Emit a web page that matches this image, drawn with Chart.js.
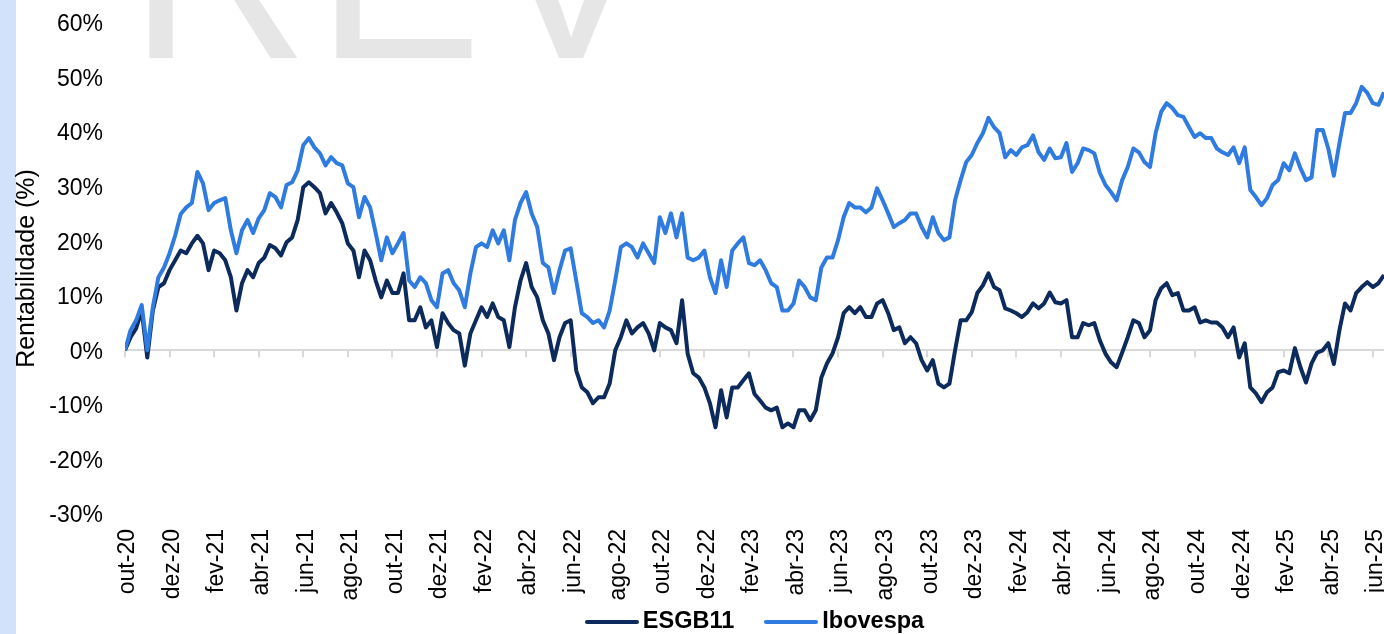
<!DOCTYPE html>
<html>
<head>
<meta charset="utf-8">
<script src="https://cdn.jsdelivr.net/npm/chart.js@4.4.1/dist/chart.umd.min.js"></script>
<style>
  html, body { margin: 0; padding: 0; background: #fff; }
  #wrap { position: relative; width: 1384px; height: 634px; overflow: hidden; }
  #faixa { position: absolute; left: 0; top: 0; width: 16px; height: 634px; background: #d0e3fb; }
  #grafico { position: absolute; left: 0; top: 0; }
  #legenda { position: absolute; left: 125px; width: 1259px; top: 607px; height: 27px;
             display: flex; justify-content: center; align-items: center;
             font: bold 23.5px "Liberation Sans", Arial, sans-serif; color: #000; }
  .linha { display: inline-block; width: 54px; height: 4px; border-radius: 2px; margin-right: 4px; margin-top: 3px; }
  .item { display: flex; align-items: center; }
  .item + .item { margin-left: 30px; }
</style>
</head>
<body>
<div id="wrap">
  <div id="faixa"></div>
  <canvas id="grafico" width="1384" height="634"></canvas>
  <div id="legenda">
    <span class="item"><span class="linha" style="background:#0c2a5b"></span>ESGB11</span>
    <span class="item"><span class="linha" style="background:#2f7be0"></span>Ibovespa</span>
  </div>
</div>
<script>
// rentabilidade acumulada (%), um ponto por ~semana desde out-20
const esgb11 = [
  0, 2.4, 4.0, 7.3, -1.3, 7.3, 11.6, 12.3, 14.7, 16.5,
  18.3, 17.8, 19.6, 21.0, 19.6, 14.7, 18.3, 17.8, 16.5, 13.4,
  7.3, 12.3, 14.7, 13.4, 16.0, 17.0, 19.3, 18.7, 17.4, 19.8,
  20.7, 23.9, 29.9, 30.8, 29.9, 28.8, 25.1, 27.0, 25.3, 23.3,
  19.6, 18.3, 13.4, 18.3, 16.5, 12.8, 9.7, 12.8, 10.5, 10.5,
  14.1, 5.5, 5.5, 7.9, 4.2, 5.5, 0.6, 6.8, 5.0, 3.7,
  3.1, -2.8, 3.1, 5.5, 7.9, 6.1, 8.6, 6.1, 5.5, 0.6,
  7.9, 12.8, 16.0, 11.6, 9.7, 5.5, 3.1, -1.8, 2.4, 5.0,
  5.5, -3.7, -6.8, -7.7, -9.7, -8.6, -8.6, -6.1, 0, 2.4,
  5.5, 3.1, 4.2, 5.0, 3.1, 0, 5.0, 4.2, 3.7, 1.3,
  9.2, -0.6, -4.2, -5.0, -6.8, -9.7, -14.1, -7.3, -12.3, -6.8,
  -6.8, -5.5, -4.2, -8.0, -9.2, -10.5, -11.0, -10.5, -14.1, -13.4,
  -14.1, -11.0, -11.0, -12.8, -11.0, -5.0, -2.4, -0.6, 2.4, 6.8,
  7.9, 6.8, 7.9, 6.1, 6.1, 8.6, 9.2, 6.8, 3.7, 4.2,
  1.3, 2.4, 1.3, -1.8, -3.7, -1.8, -6.1, -6.8, -6.1, 0,
  5.5, 5.5, 7.0, 10.5, 11.9, 14.1, 11.6, 11.0, 7.7, 7.3,
  6.8, 6.1, 7.0, 8.6, 7.7, 8.6, 10.6, 8.8, 8.6, 9.2,
  2.4, 2.4, 5.0, 4.6, 5.0, 1.8, -0.6, -2.2, -3.1, -0.4,
  2.4, 5.5, 5.0, 2.4, 3.7, 9.2, 11.4, 12.3, 10.1, 10.5,
  7.3, 7.3, 7.9, 5.1, 5.5, 5.1, 5.1, 4.2, 2.4, 4.2,
  -1.3, 1.3, -6.8, -7.9, -9.5, -7.7, -6.8, -4.0, -3.7, -4.2,
  0.4, -3.1, -5.9, -2.4, -0.4, 0, 1.3, -2.5, 3.7, 8.6,
  7.3, 10.5, 11.6, 12.5, 11.6, 12.3, 13.8
];
const ibovespa = [
  0, 3.7, 5.5, 8.3, 0, 7.9, 13.4, 15.2, 17.8, 21.0,
  25.0, 26.2, 27.0, 32.7, 30.6, 25.7, 27.0, 27.5, 27.9, 22.0,
  17.8, 22.0, 23.9, 21.5, 24.2, 25.7, 28.8, 28.1, 26.2, 30.3,
  30.8, 33.0, 37.6, 38.9, 37.2, 36.1, 33.9, 35.4, 34.3, 33.9,
  30.6, 29.9, 24.4, 28.1, 26.2, 21.5, 16.5, 20.7, 17.8, 19.6,
  21.5, 12.8, 11.6, 13.4, 12.3, 9.2, 7.9, 14.1, 14.7, 12.3,
  11.0, 7.9, 14.1, 18.9, 19.6, 18.9, 22.0, 19.6, 22.0, 16.5,
  23.9, 27.0, 29.0, 25.1, 22.6, 16.0, 15.2, 10.5, 14.7, 18.3,
  18.7, 12.8, 6.8, 6.1, 5.0, 5.5, 4.2, 7.3, 12.8, 18.9,
  19.6, 18.9, 17.0, 19.6, 17.8, 16.0, 24.4, 21.5, 25.1, 20.7,
  25.1, 17.0, 16.5, 17.0, 18.3, 13.4, 10.5, 16.5, 11.6, 18.3,
  19.6, 20.7, 16.0, 15.6, 16.5, 14.7, 12.3, 11.6, 7.3, 7.3,
  8.6, 12.8, 11.6, 9.7, 9.2, 15.2, 17.0, 17.0, 20.2, 24.4,
  27.0, 26.2, 26.2, 25.3, 26.2, 29.7, 27.5, 25.1, 22.6, 23.3,
  23.9, 25.1, 25.1, 22.6, 20.7, 24.4, 21.5, 20.2, 20.7, 27.5,
  31.2, 34.5, 35.8, 38.0, 39.8, 42.6, 40.9, 39.8, 35.4, 36.7,
  35.8, 37.2, 37.6, 39.4, 36.3, 34.9, 37.0, 35.2, 35.4, 38.0,
  32.7, 34.3, 37.0, 36.7, 36.1, 32.5, 30.3, 29.0, 27.5, 31.2,
  33.6, 37.0, 36.3, 34.5, 33.6, 39.8, 43.7, 45.3, 44.4, 43.1,
  42.8, 40.9, 39.1, 39.8, 38.9, 38.9, 37.0, 36.3, 35.8, 37.2,
  34.3, 37.2, 29.4, 28.1, 26.6, 27.9, 30.3, 31.2, 34.3, 33.0,
  36.1, 33.4, 31.2, 31.7, 40.4, 40.4, 37.0, 32.0, 38.0, 43.5,
  43.5, 45.3, 48.3, 47.2, 45.3, 45.0, 47.3
];
const tickLabels = ['out-20', 'dez-20', 'fev-21', 'abr-21', 'jun-21', 'ago-21', 'out-21', 'dez-21',
  'fev-22', 'abr-22', 'jun-22', 'ago-22', 'out-22', 'dez-22', 'fev-23', 'abr-23', 'jun-23', 'ago-23',
  'out-23', 'dez-23', 'fev-24', 'abr-24', 'jun-24', 'ago-24', 'out-24', 'dez-24', 'fev-25', 'abr-25', 'jun-25'];
const mesesPorPonto = 0.25;
const mesesPorRotulo = 2;

function pontos(serie) {
  return serie.map((v, i) => ({ x: i * mesesPorPonto, y: v }));
}

// marca d'agua "REV" cortada no topo
const marcaDagua = {
  id: 'marcaDagua',
  beforeDraw(chart) {
    const ctx = chart.ctx;
    ctx.save();
    ctx.fillStyle = '#e6e6e6';
    ctx.font = '249px "Liberation Sans"';
    ctx.textBaseline = 'alphabetic';
    ctx.fillText('R', 129, 58);
    ctx.fillText('E', 316, 58);
    ctx.fillText('V', 488, 58);
    ctx.restore();
  }
};

// tracinhos do eixo x sobre a linha do zero
const marcasZero = {
  id: 'marcasZero',
  beforeDatasetsDraw(chart) {
    const { ctx, scales: { x, y } } = chart;
    const y0 = y.getPixelForValue(0);
    ctx.save();
    ctx.strokeStyle = '#d9d9d9';
    ctx.lineWidth = 2;
    x.ticks.forEach(t => {
      const px = Math.round(x.getPixelForValue(t.value));
      ctx.beginPath();
      ctx.moveTo(px, y0);
      ctx.lineTo(px, y0 + 7);
      ctx.stroke();
    });
    ctx.restore();
  }
};

window.addEventListener("load", iniciar, false);

function iniciar() {
  Chart.defaults.color = '#000';
  Chart.defaults.font.family = '"Liberation Sans", Arial, sans-serif';

  new Chart(document.getElementById('grafico'), {
    type: 'line',
    data: {
      datasets: [{
        label: 'ESGB11',
        data: pontos(esgb11),
        borderColor: '#0c2a5b',
        backgroundColor: '#0c2a5b',
        borderWidth: 4,
        pointRadius: 0,
        tension: 0,
        borderJoinStyle: 'round',
        order: 2
      }, {
        label: 'Ibovespa',
        data: pontos(ibovespa),
        borderColor: '#2f7be0',
        backgroundColor: '#2f7be0',
        borderWidth: 4,
        pointRadius: 0,
        tension: 0,
        borderJoinStyle: 'round',
        order: 1
      }]
    },
    options: {
      responsive: false,
      animation: false,
      layout: { padding: { top: 23, left: 0, right: 0, bottom: 0 } },
      plugins: {
        legend: { display: false },
        tooltip: { enabled: false }
      },
      scales: {
        x: {
          type: 'linear',
          min: 0,
          max: (esgb11.length - 1) * mesesPorPonto,
          grid: { display: false, drawTicks: false },
          border: { display: false },
          afterBuildTicks: scale => {
            scale.ticks = tickLabels.map((t, i) => ({ value: i * mesesPorRotulo }));
          },
          afterFit: scale => {
            scale.height = 120;
            scale.paddingLeft = 0;
            scale.paddingRight = 0;
          },
          ticks: {
            autoSkip: false,
            maxRotation: 90,
            minRotation: 90,
            padding: 15,
            labelOffset: 3,
            font: { size: 23 },
            callback: v => tickLabels[Math.round(v / mesesPorRotulo)]
          }
        },
        y: {
          min: -30,
          max: 60,
          grid: {
            drawTicks: false,
            lineWidth: 2,
            color: c => c.tick.value === 0 ? '#d9d9d9' : 'rgba(0,0,0,0)'
          },
          border: { display: false },
          afterFit: scale => {
            scale.width = 125;
            scale.paddingTop = 0;
            scale.paddingBottom = 0;
          },
          title: {
            display: true,
            text: 'Rentabilidade (%)',
            font: { size: 25 },
            padding: { top: 12, bottom: 0 }
          },
          ticks: {
            stepSize: 10,
            padding: 22,
            labelOffset: 2,
            font: { size: 23 },
            callback: v => v + '%'
          }
        }
      }
    },
    plugins: [marcaDagua, marcasZero]
  });
}
</script>
</body>
</html>
